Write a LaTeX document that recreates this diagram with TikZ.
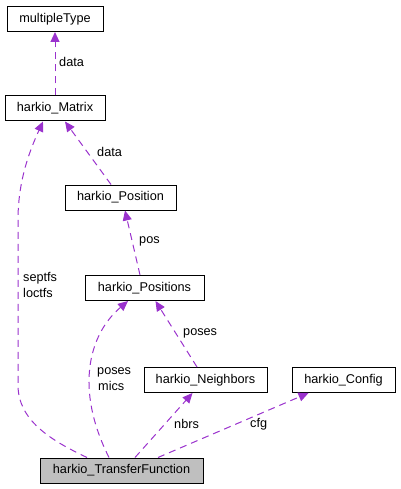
\documentclass[tikz,border=0pt]{standalone}
\usepackage{fontspec}
\setmainfont{Liberation Sans}
\usetikzlibrary{arrows.meta}
\definecolor{edgecol}{HTML}{9A32CD}
\tikzset{
  cls/.style={draw=black, line width=1pt, rectangle, inner sep=0pt, minimum height=25pt, font=\fontsize{12.7}{14}\selectfont},
  edge/.style={draw=edgecol, line width=1pt, dash pattern=on 7pt off 5pt, -{Triangle[length=10pt,width=9pt,fill=edgecol]}},
  lbl/.style={anchor=west, inner sep=0pt, font=\fontsize{12.7}{14}\selectfont},
}
\begin{document}
\begin{tikzpicture}[x=1pt,y=-1pt]
\useasboundingbox (0,0) rectangle (400,489);
\node[cls, minimum width=96pt] (mt) at (55,19) {multipleType};
\node[cls, minimum width=100pt] (mat) at (55,108.5) {harkio\_Matrix};
\node[cls, minimum width=111pt] (pos) at (120.5,197.5) {harkio\_Position};
\node[cls, minimum width=119pt] (poss) at (144.5,288) {harkio\_Positions};
\node[cls, minimum width=123pt] (nbr) at (205.5,380) {harkio\_Neighbors};
\node[cls, minimum width=103pt] (cfg) at (343.5,380) {harkio\_Config};
\node[cls, minimum width=163pt, fill=black!25] (tf) at (121.5,470.5) {harkio\_TransferFunction};

\draw[edge] (mat.north) -- (mt.south);
\draw[edge] ([xshift=-9.5pt]pos.north) -- ([xshift=10pt]mat.south);
\draw[edge] ([xshift=-4.5pt]poss.north) -- ([xshift=4.5pt]pos.south);
\draw[edge] ([xshift=-34.5pt]tf.north) .. controls (50,440) and (18,420) .. (18,385) -- (18,220) .. controls (18,180) and (30,150) .. ([xshift=-12pt]mat.south);
\draw[edge] ([xshift=-12.5pt]tf.north) .. controls (75,390) and (88,335) .. ([xshift=-16.5pt]poss.south);
\draw[edge] ([xshift=-8.5pt]nbr.north) -- ([xshift=11pt]poss.south);
\draw[edge] ([xshift=13.5pt]tf.north) -- ([xshift=-13pt]nbr.south);
\draw[edge] ([xshift=36.5pt]tf.north) -- ([xshift=-35pt]cfg.south);

\node[lbl] (l1) at (59,62) {data};
\node[lbl] (l2) at (97,152) {data};
\node[lbl] (l3) at (139,241) {pos};
\node[lbl] (l4) at (23,278) {septfs};
\node[lbl] (l5) at (23,293) {loctfs};
\node[lbl] (l6) at (183,333) {poses};
\node[lbl] (l7) at (97,372) {poses};
\node[lbl] (l8) at (98,386) {mics};
\node[lbl] (l9) at (174,424) {nbrs};
\node[lbl] (l10) at (250,424) {cfg};
\end{tikzpicture}
\end{document}
